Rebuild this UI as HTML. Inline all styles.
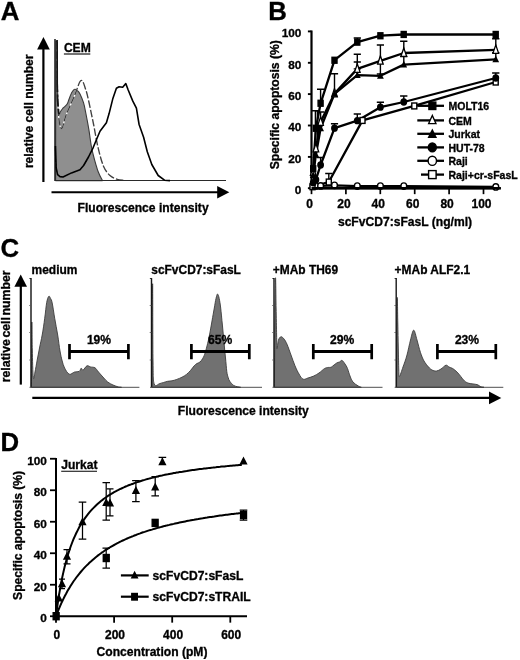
<!DOCTYPE html>
<html lang="en"><head><meta charset="utf-8"><title>Figure</title>
<style>html,body{margin:0;padding:0;background:#fff}svg{display:block}</style></head><body>
<svg width="520" height="660" viewBox="0 0 520 660" font-family="'Liberation Sans', Arial, Helvetica, sans-serif" font-weight="bold" fill="#000">
<rect width="520" height="660" fill="#fff"/>
<defs><filter id="soft" x="0" y="0" width="520" height="660" filterUnits="userSpaceOnUse"><feGaussianBlur stdDeviation="0.42"/></filter></defs>
<g filter="url(#soft)">
<text x="0.8" y="19.6" font-size="25.8" text-anchor="start" stroke="#000" stroke-width="0.32" >A</text>
<text x="268.2" y="19.8" font-size="25.8" text-anchor="start" stroke="#000" stroke-width="0.32" >B</text>
<text x="0.5" y="256.6" font-size="25.8" text-anchor="start" stroke="#000" stroke-width="0.32" >C</text>
<text x="0.5" y="451" font-size="25.8" text-anchor="start" stroke="#000" stroke-width="0.32" >D</text>
<g id="panelA">
<path d="M55.6,180.6L55.8,41.0L56.6,41.0L56.9,86.5L57.6,104.0L57.6,104.0C57.8,105.7 58.2,113.0 58.7,114.2C59.2,115.5 59.8,112.5 60.5,111.5C61.2,110.5 62.0,109.3 62.7,108.5C63.5,107.7 64.2,107.2 65.0,106.4C65.8,105.6 66.6,105.0 67.3,103.8C68.0,102.6 68.4,100.8 69.0,99.3C69.6,97.8 70.2,96.0 70.8,94.6C71.4,93.2 72.1,91.9 72.8,91.0C73.5,90.1 74.0,89.4 74.8,89.3C75.6,89.2 76.5,89.8 77.4,90.6C78.3,91.4 79.0,92.0 80.0,94.0C81.0,96.0 82.5,99.5 83.5,102.7C84.5,105.9 84.9,108.4 85.8,113.0C86.7,117.6 88.1,124.9 89.0,130.4C89.9,135.9 90.4,141.3 91.3,146.0C92.2,150.7 93.0,154.2 94.2,158.5C95.4,162.8 96.9,168.3 98.3,172.0C99.7,175.7 101.8,179.2 102.5,180.6Z" fill="#8f8f8f" stroke="#3a3a3a" stroke-width="1.1" stroke-linejoin="round"/>
<path d="M57.0,42.0C57.0,48.3 57.0,67.8 57.3,80.0C57.5,92.2 57.8,106.9 58.5,115.0C59.2,123.1 60.3,128.6 61.6,128.6C62.9,128.6 64.0,120.3 66.1,115.0C68.2,109.7 71.6,102.5 74.1,96.8C76.6,91.0 79.0,81.8 80.9,80.5C82.8,79.2 84.2,85.3 85.5,88.9C86.8,92.5 87.6,96.1 88.9,102.0C90.2,107.9 92.0,116.8 93.6,124.5C95.1,132.2 96.5,141.2 98.2,148.2C99.9,155.2 101.6,161.8 103.6,166.4C105.6,171.0 107.7,173.3 110.0,175.5C112.3,177.7 115.0,178.5 117.3,179.3C119.6,180.1 122.9,180.2 124.0,180.4" fill="none" stroke="#fff" stroke-width="1.3"/>
<path d="M57.0,42.0C57.0,48.3 57.0,67.8 57.3,80.0C57.5,92.2 57.8,106.9 58.5,115.0C59.2,123.1 60.3,128.6 61.6,128.6C62.9,128.6 64.0,120.3 66.1,115.0C68.2,109.7 71.6,102.5 74.1,96.8C76.6,91.0 79.0,81.8 80.9,80.5C82.8,79.2 84.2,85.3 85.5,88.9C86.8,92.5 87.6,96.1 88.9,102.0C90.2,107.9 92.0,116.8 93.6,124.5C95.1,132.2 96.5,141.2 98.2,148.2C99.9,155.2 101.6,161.8 103.6,166.4C105.6,171.0 107.7,173.3 110.0,175.5C112.3,177.7 115.0,178.5 117.3,179.3C119.6,180.1 122.9,180.2 124.0,180.4" fill="none" stroke="#404040" stroke-width="1.35" stroke-dasharray="7.5 2"/>
<path d="M57.1,40L57.2,84L57.7,101L58.8,114" fill="none" stroke="#141414" stroke-width="1.7" stroke-dasharray="52 2.5 12 2.5 30"/>
<path d="M55,180.4H226" stroke="#2a2a2a" stroke-width="1.05" fill="none"/>
<path d="M55,39V181" stroke="#262626" stroke-width="1.6" fill="none"/>
<polyline points="55.4,146.0 56.2,168.0 57.6,174.6 60.0,176.6 63.0,177.0 71.5,172.9 80.0,169.7 83.6,165.5 88.5,157.0 93.3,147.3 96.5,139.5 100.0,131.2 106.4,122.7 109.1,113.6 112.7,99.1 116.4,88.2 119.1,86.7 122.7,87.3 125.8,83.6 128.2,90.0 132.7,100.9 136.4,108.2 139.1,124.5 143.6,137.3 147.3,151.8 151.8,164.5 158.2,175.5 164.5,180.2 170.0,180.6" fill="none" stroke="#000" stroke-width="1.6" stroke-linejoin="round"/>
<path d="M43.4,182V48" stroke="#000" stroke-width="2.2" fill="none"/>
<polygon points="43.45,37 37.1,49.6 49.8,49.6"/>
<path d="M51.5,192.3H219" stroke="#000" stroke-width="2" fill="none"/>
<polygon points="229.3,192.3 217.2,186 217.2,198.6"/>
<text x="63.9" y="52.4" font-size="12.1" text-anchor="start" stroke="#000" stroke-width="0.32" >CEM</text>
<path d="M63.9,54H90.3" stroke="#000" stroke-width="1.1"/>
<text transform="translate(33.4 111.3) rotate(-90)" font-size="12.1" text-anchor="middle" stroke="#000" stroke-width="0.32" >relative cell number</text>
<text x="143.1" y="212.3" font-size="12.1" text-anchor="middle" stroke="#000" stroke-width="0.32" >Fluorescence intensity</text>
</g>
<g id="panelB">
<path d="M311.5,30.4V188.25H500.8" stroke="#000" stroke-width="2.2" fill="none"/>
<path d="M307.9,188.2H311.5" stroke="#000" stroke-width="1.9"/>
<text x="301.4" y="194.2" font-size="11.8" text-anchor="end" stroke="#000" stroke-width="0.32" >0</text>
<path d="M307.9,156.9H311.5" stroke="#000" stroke-width="1.9"/>
<text x="301.4" y="162.8" font-size="11.8" text-anchor="end" stroke="#000" stroke-width="0.32" >20</text>
<path d="M307.9,125.5H311.5" stroke="#000" stroke-width="1.9"/>
<text x="301.4" y="131.4" font-size="11.8" text-anchor="end" stroke="#000" stroke-width="0.32" >40</text>
<path d="M307.9,94.1H311.5" stroke="#000" stroke-width="1.9"/>
<text x="301.4" y="100.0" font-size="11.8" text-anchor="end" stroke="#000" stroke-width="0.32" >60</text>
<path d="M307.9,62.8H311.5" stroke="#000" stroke-width="1.9"/>
<text x="301.4" y="68.7" font-size="11.8" text-anchor="end" stroke="#000" stroke-width="0.32" >80</text>
<path d="M307.9,31.4H311.5" stroke="#000" stroke-width="1.9"/>
<text x="301.4" y="37.3" font-size="11.8" text-anchor="end" stroke="#000" stroke-width="0.32" >100</text>
<path d="M311.5,188.25V194.15" stroke="#000" stroke-width="1.7"/>
<text x="309.5" y="208" font-size="12" text-anchor="middle" stroke="#000" stroke-width="0.32" >0</text>
<path d="M345.9,188.25V194.15" stroke="#000" stroke-width="1.7"/>
<text x="343.9" y="208" font-size="12" text-anchor="middle" stroke="#000" stroke-width="0.32" >20</text>
<path d="M380.3,188.25V194.15" stroke="#000" stroke-width="1.7"/>
<text x="378.3" y="208" font-size="12" text-anchor="middle" stroke="#000" stroke-width="0.32" >40</text>
<path d="M414.7,188.25V194.15" stroke="#000" stroke-width="1.7"/>
<text x="412.7" y="208" font-size="12" text-anchor="middle" stroke="#000" stroke-width="0.32" >60</text>
<path d="M449.1,188.25V194.15" stroke="#000" stroke-width="1.7"/>
<text x="447.1" y="208" font-size="12" text-anchor="middle" stroke="#000" stroke-width="0.32" >80</text>
<path d="M483.5,188.25V194.15" stroke="#000" stroke-width="1.7"/>
<text x="481.5" y="208" font-size="12" text-anchor="middle" stroke="#000" stroke-width="0.32" >100</text>
<text transform="translate(279.2 104.8) rotate(-90)" font-size="12.1" text-anchor="middle" stroke="#000" stroke-width="0.32" >Specific apoptosis (%)</text>
<text x="405" y="225.5" font-size="12.1" text-anchor="middle" stroke="#000" stroke-width="0.32" >scFvCD7:sFasL (ng/ml)</text>
<polyline points="313.2,185.9 315.9,185.9 320.6,185.9 334.5,185.3 357.3,186.1 380.4,186.1 403.8,186.1 495.8,186.9" fill="none" stroke="#000" stroke-width="2.3" stroke-linejoin="round"/>
<polyline points="312.5,186.7 328.8,182.0 362.5,120.4 414.2,105.9 495.8,82.0" fill="none" stroke="#000" stroke-width="2.3" stroke-linejoin="round"/>
<polyline points="313.2,182.8 315.9,179.7 320.6,165.0 334.5,128.2 357.3,120.7 380.4,107.2 403.8,102.0 495.8,78.0" fill="none" stroke="#000" stroke-width="2.3" stroke-linejoin="round"/>
<polyline points="313.2,175.0 315.9,154.7 320.6,128.2 334.5,93.9 357.3,75.2 380.4,75.8 403.8,64.6 495.8,59.3" fill="none" stroke="#000" stroke-width="2.3" stroke-linejoin="round"/>
<polyline points="313.2,171.9 315.9,148.5 320.6,122.0 334.5,93.6 357.3,68.9 380.4,60.8 403.8,53.0 495.8,49.9" fill="none" stroke="#000" stroke-width="2.3" stroke-linejoin="round"/>
<polyline points="313.2,168.8 315.9,128.2 320.6,103.3 334.5,60.2 357.3,42.1 380.4,35.7 403.8,34.5 495.8,34.5" fill="none" stroke="#000" stroke-width="2.3" stroke-linejoin="round"/>
<path d="M328.8,173.5V182.0M325.2,173.5H332.4" stroke="#000" stroke-width="1.4" fill="none"/>
<path d="M334.5,123.7V128.2M330.9,123.7H338.1" stroke="#000" stroke-width="1.4" fill="none"/>
<path d="M357.3,114.0V120.7M353.7,114.0H360.9" stroke="#000" stroke-width="1.4" fill="none"/>
<path d="M380.4,102.2V107.2M376.8,102.2H384.0" stroke="#000" stroke-width="1.4" fill="none"/>
<path d="M403.8,96.0V102.0M400.1,96.0H407.4" stroke="#000" stroke-width="1.4" fill="none"/>
<path d="M495.8,73.0V78.0M492.1,73.0H499.4" stroke="#000" stroke-width="1.4" fill="none"/>
<path d="M320.6,157.5V165.0M317.0,157.5H324.2" stroke="#000" stroke-width="1.4" fill="none"/>
<path d="M334.5,73.8V93.9M330.9,73.8H338.1" stroke="#000" stroke-width="1.4" fill="none"/>
<path d="M357.3,62.0V75.2M353.7,62.0H360.9" stroke="#000" stroke-width="1.4" fill="none"/>
<path d="M357.3,54.2V68.9M353.7,54.2H360.9M353.7,68.9H360.9" stroke="#000" stroke-width="1.4" fill="none"/>
<path d="M380.4,45.0V74.0M376.8,45.0H384.0M376.8,74.0H384.0" stroke="#000" stroke-width="1.4" fill="none"/>
<path d="M403.8,41.3V53.0M400.1,41.3H407.4" stroke="#000" stroke-width="1.4" fill="none"/>
<path d="M495.8,38.8V49.9M492.1,38.8H499.4" stroke="#000" stroke-width="1.4" fill="none"/>
<path d="M495.8,52.6V59.3M492.1,52.6H499.4" stroke="#000" stroke-width="1.4" fill="none"/>
<path d="M403.8,56.5V64.6M400.1,56.5H407.4" stroke="#000" stroke-width="1.4" fill="none"/>
<path d="M320.6,112.0V122.0M317.0,112.0H324.2" stroke="#000" stroke-width="1.4" fill="none"/>
<path d="M315.4,110.8V148.5M311.2,110.8H319.6" stroke="#000" stroke-width="1.4" fill="none"/>
<path d="M317.4,110.8V140.0M315.4,110.8H319.4" stroke="#000" stroke-width="1.4" fill="none"/>
<path d="M357.3,38.0V42.1M353.7,38.0H360.9" stroke="#000" stroke-width="1.4" fill="none"/>
<path d="M320.6,89.2V103.3M317.0,89.2H324.2" stroke="#000" stroke-width="1.4" fill="none"/>
<ellipse cx="313.2" cy="185.9" rx="2.9" ry="3.19" fill="#fff" stroke="#000" stroke-width="1.4"/>
<ellipse cx="315.9" cy="185.9" rx="2.9" ry="3.19" fill="#fff" stroke="#000" stroke-width="1.4"/>
<ellipse cx="320.6" cy="185.9" rx="2.9" ry="3.19" fill="#fff" stroke="#000" stroke-width="1.4"/>
<ellipse cx="334.5" cy="185.3" rx="2.9" ry="3.19" fill="#fff" stroke="#000" stroke-width="1.4"/>
<ellipse cx="357.3" cy="186.1" rx="2.9" ry="3.19" fill="#fff" stroke="#000" stroke-width="1.4"/>
<ellipse cx="380.4" cy="186.1" rx="2.9" ry="3.19" fill="#fff" stroke="#000" stroke-width="1.4"/>
<ellipse cx="403.8" cy="186.1" rx="2.9" ry="3.19" fill="#fff" stroke="#000" stroke-width="1.4"/>
<ellipse cx="495.8" cy="186.9" rx="2.9" ry="3.19" fill="#fff" stroke="#000" stroke-width="1.4"/>
<rect x="310.0" y="183.8" width="5.0" height="5.9" fill="#fff" stroke="#000" stroke-width="1.4"/>
<rect x="326.3" y="179.1" width="5.0" height="5.9" fill="#fff" stroke="#000" stroke-width="1.4"/>
<rect x="360.0" y="117.5" width="5.0" height="5.9" fill="#fff" stroke="#000" stroke-width="1.4"/>
<rect x="411.8" y="103.0" width="5.0" height="5.9" fill="#fff" stroke="#000" stroke-width="1.4"/>
<rect x="493.2" y="79.1" width="5.0" height="5.9" fill="#fff" stroke="#000" stroke-width="1.4"/>
<ellipse cx="313.2" cy="182.8" rx="2.7" ry="2.97" fill="#000" stroke="#000" stroke-width="1.4"/>
<ellipse cx="315.9" cy="179.7" rx="2.7" ry="2.97" fill="#000" stroke="#000" stroke-width="1.4"/>
<ellipse cx="320.6" cy="165.0" rx="2.7" ry="2.97" fill="#000" stroke="#000" stroke-width="1.4"/>
<ellipse cx="334.5" cy="128.2" rx="2.7" ry="2.97" fill="#000" stroke="#000" stroke-width="1.4"/>
<ellipse cx="357.3" cy="120.7" rx="2.7" ry="2.97" fill="#000" stroke="#000" stroke-width="1.4"/>
<ellipse cx="380.4" cy="107.2" rx="2.7" ry="2.97" fill="#000" stroke="#000" stroke-width="1.4"/>
<ellipse cx="403.8" cy="102.0" rx="2.7" ry="2.97" fill="#000" stroke="#000" stroke-width="1.4"/>
<ellipse cx="495.8" cy="78.0" rx="2.7" ry="2.97" fill="#000" stroke="#000" stroke-width="1.4"/>
<polygon points="313.2,166.9 310.4,175.3 316.0,175.3" fill="#fff" stroke="#000" stroke-width="1.3" stroke-linejoin="miter"/>
<polygon points="315.9,143.5 313.1,151.9 318.7,151.9" fill="#fff" stroke="#000" stroke-width="1.3" stroke-linejoin="miter"/>
<polygon points="320.6,116.9 317.8,125.3 323.4,125.3" fill="#fff" stroke="#000" stroke-width="1.3" stroke-linejoin="miter"/>
<polygon points="334.5,88.5 331.7,96.9 337.3,96.9" fill="#fff" stroke="#000" stroke-width="1.3" stroke-linejoin="miter"/>
<polygon points="357.3,63.9 354.5,72.3 360.1,72.3" fill="#fff" stroke="#000" stroke-width="1.3" stroke-linejoin="miter"/>
<polygon points="380.4,55.8 377.6,64.2 383.2,64.2" fill="#fff" stroke="#000" stroke-width="1.3" stroke-linejoin="miter"/>
<polygon points="403.8,48.0 400.9,56.4 406.6,56.4" fill="#fff" stroke="#000" stroke-width="1.3" stroke-linejoin="miter"/>
<polygon points="495.8,44.9 492.9,53.3 498.6,53.3" fill="#fff" stroke="#000" stroke-width="1.3" stroke-linejoin="miter"/>
<polygon points="313.2,171.3 309.8,178.0 316.6,178.0" fill="#000"/>
<polygon points="315.9,151.0 312.5,157.7 319.3,157.7" fill="#000"/>
<polygon points="320.6,124.5 317.2,131.2 324.0,131.2" fill="#000"/>
<polygon points="334.5,90.2 331.1,96.8 337.9,96.8" fill="#000"/>
<polygon points="357.3,71.4 353.9,78.1 360.7,78.1" fill="#000"/>
<polygon points="380.4,72.1 377.0,78.7 383.8,78.7" fill="#000"/>
<polygon points="403.8,60.8 400.4,67.5 407.1,67.5" fill="#000"/>
<polygon points="495.8,55.5 492.4,62.2 499.1,62.2" fill="#000"/>
<rect x="310.7" y="165.8" width="5.0" height="5.9" fill="#000" stroke="#000" stroke-width="1.4"/>
<rect x="313.4" y="125.3" width="5.0" height="5.9" fill="#000" stroke="#000" stroke-width="1.4"/>
<rect x="318.1" y="100.3" width="5.0" height="5.9" fill="#000" stroke="#000" stroke-width="1.4"/>
<rect x="332.0" y="57.3" width="5.0" height="5.9" fill="#000" stroke="#000" stroke-width="1.4"/>
<rect x="354.8" y="39.2" width="5.0" height="5.9" fill="#000" stroke="#000" stroke-width="1.4"/>
<rect x="377.9" y="32.8" width="5.0" height="5.9" fill="#000" stroke="#000" stroke-width="1.4"/>
<rect x="401.2" y="31.5" width="5.0" height="5.9" fill="#000" stroke="#000" stroke-width="1.4"/>
<rect x="493.2" y="31.5" width="5.0" height="5.9" fill="#000" stroke="#000" stroke-width="1.4"/>
<path d="M311.5,188.25H500.8" stroke="#000" stroke-width="2.3" fill="none"/>
<path d="M417.3,105.8H444" stroke="#000" stroke-width="2.3"/>
<rect x="428.9" y="102.1" width="6.9" height="7.4" fill="#000" stroke="#000" stroke-width="1.4"/>
<text x="448.5" y="109.89999999999999" font-size="10.5" text-anchor="start" stroke="#000" stroke-width="0.32" >MOLT16</text>
<path d="M417.3,120.4H444" stroke="#000" stroke-width="2.3"/>
<polygon points="432.3,115.4 428.6,123.7 436.0,123.7" fill="#fff" stroke="#000" stroke-width="1.3" stroke-linejoin="miter"/>
<text x="448.5" y="124.5" font-size="10.5" text-anchor="start" stroke="#000" stroke-width="0.32" >CEM</text>
<path d="M417.3,133.8H444" stroke="#000" stroke-width="2.3"/>
<polygon points="432.3,128.5 427.5,137.9 437.1,137.9" fill="#000"/>
<text x="448.5" y="137.9" font-size="10.5" text-anchor="start" stroke="#000" stroke-width="0.32" >Jurkat</text>
<path d="M417.3,147.4H444" stroke="#000" stroke-width="2.3"/>
<ellipse cx="432.3" cy="147.4" rx="4.0" ry="4.40" fill="#000" stroke="#000" stroke-width="1.4"/>
<text x="448.5" y="151.5" font-size="10.5" text-anchor="start" stroke="#000" stroke-width="0.32" >HUT-78</text>
<path d="M417.3,160.8H444" stroke="#000" stroke-width="2.3"/>
<ellipse cx="432.3" cy="160.8" rx="4.2" ry="4.62" fill="#fff" stroke="#000" stroke-width="1.4"/>
<text x="448.5" y="164.9" font-size="10.5" text-anchor="start" stroke="#000" stroke-width="0.32" >Raji</text>
<path d="M421,174.6H444" stroke="#000" stroke-width="2.3"/>
<rect x="428.6" y="170.6" width="7.5" height="8.0" fill="#fff" stroke="#000" stroke-width="1.4"/>
<text x="448.5" y="178.7" font-size="10.5" text-anchor="start" stroke="#000" stroke-width="0.32" >Raji+cr-sFasL</text>
</g>
<g id="panelC">
<text transform="translate(10.2 326.3) rotate(-90)" font-size="12.3" text-anchor="middle" stroke="#000" stroke-width="0.32" word-spacing="-1.8">relative cell number</text>
<path d="M20.8,384.6V286" stroke="#000" stroke-width="2.2" fill="none"/>
<polygon points="20.7,274.6 14.4,286.7 27,286.7"/>
<path d="M32.3,397.9H491" stroke="#000" stroke-width="2.1" fill="none"/>
<polygon points="501.3,397.9 489,391.6 489,404.2"/>
<text x="243.3" y="415.3" font-size="12.1" text-anchor="middle" stroke="#000" stroke-width="0.32" >Fluorescence intensity</text>
<path d="M31.4,387.3C31.5,376.6 31.7,329.2 31.8,323.0C31.9,316.8 32.0,340.9 32.3,350.0C32.5,359.1 32.8,373.8 33.3,377.5C33.8,381.2 34.4,374.9 35.0,372.0C35.6,369.1 36.5,364.0 37.2,360.0C38.0,356.0 38.7,352.2 39.5,348.0C40.3,343.8 41.3,339.9 42.2,335.0C43.1,330.1 44.0,323.7 44.7,318.3C45.5,312.9 46.0,306.2 46.7,302.5C47.4,298.8 48.1,297.0 48.8,296.3C49.4,295.6 50.0,297.4 50.6,298.5C51.2,299.6 51.5,299.7 52.2,303.0C52.9,306.3 53.8,313.0 54.7,318.3C55.6,323.6 56.8,329.6 57.7,335.0C58.6,340.4 59.2,346.7 60.0,351.0C60.8,355.3 61.4,358.2 62.2,361.0C63.0,363.8 63.4,365.8 64.6,368.0C65.8,370.2 67.5,373.5 69.2,374.2C70.9,374.9 72.9,372.5 74.6,372.0C76.3,371.5 78.1,372.0 79.2,371.4C80.3,370.8 80.6,368.4 81.2,368.2C81.8,368.0 82.0,370.6 83.0,370.2C84.0,369.8 85.7,366.3 87.0,365.8C88.3,365.3 89.5,366.7 90.8,367.0C92.1,367.3 93.7,367.0 95.0,367.8C96.3,368.6 97.0,370.3 98.5,372.0C100.0,373.7 102.3,376.3 103.8,378.0C105.3,379.7 106.2,380.8 107.7,382.0C109.2,383.2 111.2,384.2 113.0,385.0C114.8,385.8 117.1,386.6 118.5,387.0C119.9,387.4 121.0,387.2 121.5,387.3Z" fill="#717171" stroke="#3c3c3c" stroke-width="0.9" stroke-linejoin="round"/>
<path d="M29.4,278.5H31" stroke="#222" stroke-width="0.9" fill="none"/>
<path d="M31,278.1V387.3" stroke="#161616" stroke-width="1.4" fill="none"/>
<path d="M29.5,387.3H139.4" stroke="#3a3a3a" stroke-width="0.9" fill="none"/>
<text x="31.6" y="273.6" font-size="11.95" text-anchor="start" stroke="#000" stroke-width="0.32" >medium</text>
<text x="99" y="344" font-size="12.1" text-anchor="middle" stroke="#000" stroke-width="0.32" >19%</text>
<path d="M69.5,351.6H128.4" stroke="#000" stroke-width="3" fill="none"/>
<path d="M69.5,344V359.3M128.4,344V359.3" stroke="#000" stroke-width="2.7" fill="none"/>
<path d="M29.2,305.5H31" stroke="#555" stroke-width="0.8"/>
<path d="M29.2,332.5H31" stroke="#555" stroke-width="0.8"/>
<path d="M29.2,360H31" stroke="#555" stroke-width="0.8"/>
<path d="M151.9,387.3C152.0,370.1 152.4,288.6 152.6,284.0C152.8,279.4 152.7,343.3 153.0,360.0C153.3,376.7 153.0,380.1 154.2,384.0C155.4,387.9 157.8,383.9 160.0,383.5C162.2,383.1 165.2,381.8 167.2,381.4C169.2,380.9 170.4,381.1 172.0,380.8C173.6,380.5 175.1,380.0 176.8,379.4C178.5,378.8 180.4,378.0 182.0,377.2C183.6,376.4 185.1,375.5 186.5,374.4C187.9,373.3 189.2,371.9 190.5,370.5C191.8,369.1 193.1,367.0 194.2,365.8C195.3,364.6 196.0,364.1 197.0,363.5C198.0,362.9 199.1,362.8 200.0,362.0C200.9,361.2 201.7,360.1 202.5,358.8C203.3,357.5 203.9,356.3 204.7,354.2C205.4,352.1 206.2,349.2 207.0,346.0C207.8,342.8 208.7,339.2 209.5,335.0C210.3,330.8 211.2,325.5 212.0,321.0C212.8,316.5 213.6,311.8 214.3,308.0C215.0,304.2 215.4,300.8 216.0,298.5C216.6,296.2 217.1,294.0 217.6,294.0C218.1,294.0 218.7,296.2 219.2,298.5C219.7,300.8 220.2,303.6 220.7,308.0C221.2,312.4 221.8,319.2 222.4,325.0C223.0,330.8 223.5,337.2 224.0,342.7C224.5,348.2 225.0,353.2 225.5,358.0C226.0,362.8 226.4,368.2 226.8,371.5C227.2,374.8 227.7,375.9 228.2,377.5C228.7,379.1 228.8,379.9 229.7,381.2C230.6,382.5 232.3,384.5 233.6,385.4C234.9,386.3 236.5,386.5 237.7,386.8C238.9,387.1 240.2,387.2 240.7,387.3Z" fill="#717171" stroke="#3c3c3c" stroke-width="0.9" stroke-linejoin="round"/>
<path d="M149.9,278.5H151.5" stroke="#222" stroke-width="0.9" fill="none"/>
<path d="M151.5,278.1V387.3" stroke="#161616" stroke-width="1.4" fill="none"/>
<path d="M150.0,387.3H262" stroke="#3a3a3a" stroke-width="0.9" fill="none"/>
<text x="151.3" y="273.6" font-size="11.95" text-anchor="start" stroke="#000" stroke-width="0.32" >scFvCD7:sFasL</text>
<text x="220.2" y="344" font-size="12.1" text-anchor="middle" stroke="#000" stroke-width="0.32" >65%</text>
<path d="M191.4,351.6H249.3" stroke="#000" stroke-width="3" fill="none"/>
<path d="M191.4,344V359.3M249.3,344V359.3" stroke="#000" stroke-width="2.7" fill="none"/>
<path d="M149.7,305.5H151.5" stroke="#555" stroke-width="0.8"/>
<path d="M149.7,332.5H151.5" stroke="#555" stroke-width="0.8"/>
<path d="M149.7,360H151.5" stroke="#555" stroke-width="0.8"/>
<path d="M274.4,387.3C274.6,369.6 275.1,294.2 275.4,281.0C275.7,267.8 275.9,299.0 276.1,308.0C276.3,317.0 276.5,328.2 276.6,335.0C276.8,341.8 276.7,347.8 277.0,348.6C277.3,349.4 277.8,342.0 278.5,340.0C279.2,338.0 280.1,336.9 281.0,336.7C281.9,336.5 283.0,337.8 284.0,339.0C285.0,340.2 285.8,341.5 287.0,344.2C288.2,346.9 289.7,351.4 291.0,355.0C292.3,358.6 293.7,362.6 295.0,365.8C296.3,369.0 297.7,371.8 299.0,374.0C300.3,376.2 301.5,378.5 303.0,379.2C304.5,379.9 306.2,378.5 308.0,378.0C309.8,377.5 312.0,376.8 313.8,376.0C315.6,375.2 317.2,374.2 319.0,373.0C320.8,371.8 323.1,369.4 324.6,368.5C326.1,367.6 326.9,367.8 328.0,367.5C329.1,367.2 329.9,367.8 331.4,367.0C332.8,366.2 335.3,363.8 336.7,363.0C338.1,362.2 338.6,362.4 339.5,362.0C340.4,361.6 341.1,360.1 342.0,360.4C342.9,360.7 344.1,362.6 345.0,364.0C345.9,365.4 346.7,366.5 347.5,368.5C348.3,370.5 349.1,373.8 350.0,376.0C350.9,378.2 351.5,380.3 352.9,382.0C354.3,383.7 356.9,385.1 358.3,386.0C359.7,386.9 360.8,387.1 361.3,387.3Z" fill="#717171" stroke="#3c3c3c" stroke-width="0.9" stroke-linejoin="round"/>
<path d="M272.4,278.5H274" stroke="#222" stroke-width="0.9" fill="none"/>
<path d="M274,278.1V387.3" stroke="#161616" stroke-width="1.4" fill="none"/>
<path d="M272.5,387.3H382.5" stroke="#3a3a3a" stroke-width="0.9" fill="none"/>
<text x="272.8" y="273.6" font-size="11.95" text-anchor="start" stroke="#000" stroke-width="0.32" >+MAb TH69</text>
<text x="342.1" y="344" font-size="12.1" text-anchor="middle" stroke="#000" stroke-width="0.32" >29%</text>
<path d="M313.3,351.6H371.7" stroke="#000" stroke-width="3" fill="none"/>
<path d="M313.3,344V359.3M371.7,344V359.3" stroke="#000" stroke-width="2.7" fill="none"/>
<path d="M272.2,305.5H274" stroke="#555" stroke-width="0.8"/>
<path d="M272.2,332.5H274" stroke="#555" stroke-width="0.8"/>
<path d="M272.2,360H274" stroke="#555" stroke-width="0.8"/>
<path d="M396.6,387.3C396.7,372.8 397.0,310.7 397.2,300.0C397.4,289.3 397.6,315.0 397.8,323.0C398.0,331.0 398.1,340.2 398.3,348.0C398.5,355.8 398.6,365.2 398.8,370.0C399.0,374.8 398.7,377.0 399.4,376.5C400.1,376.0 401.7,370.6 403.0,367.0C404.3,363.4 405.8,359.5 407.0,355.0C408.2,350.5 409.4,344.1 410.5,340.0C411.6,335.9 412.6,330.2 413.7,330.2C414.8,330.2 415.9,336.3 417.0,340.0C418.1,343.7 419.2,348.8 420.4,352.3C421.6,355.8 422.6,358.6 424.0,361.0C425.4,363.4 427.2,365.5 428.5,367.0C429.8,368.5 430.7,369.3 432.0,370.0C433.3,370.7 435.0,371.2 436.5,371.0C438.0,370.8 439.4,370.0 441.0,369.0C442.6,368.0 444.7,365.5 446.0,365.2C447.3,364.9 447.9,366.4 449.0,367.0C450.1,367.6 451.4,367.7 452.7,368.5C454.0,369.3 455.6,370.7 457.0,372.0C458.4,373.3 459.6,375.0 460.8,376.5C462.1,378.0 463.1,379.9 464.5,381.0C465.9,382.1 466.8,382.7 468.9,383.3C471.0,383.9 475.0,384.0 477.0,384.6C479.0,385.2 479.8,386.4 481.0,386.8C482.2,387.2 483.5,387.2 484.0,387.3Z" fill="#717171" stroke="#3c3c3c" stroke-width="0.9" stroke-linejoin="round"/>
<path d="M394.59999999999997,278.5H396.2" stroke="#222" stroke-width="0.9" fill="none"/>
<path d="M396.2,278.1V387.3" stroke="#161616" stroke-width="1.4" fill="none"/>
<path d="M394.7,387.3H503.3" stroke="#3a3a3a" stroke-width="0.9" fill="none"/>
<text x="394.59999999999997" y="273.6" font-size="11.95" text-anchor="start" stroke="#000" stroke-width="0.32" >+MAb ALF2.1</text>
<text x="467" y="344" font-size="12.1" text-anchor="middle" stroke="#000" stroke-width="0.32" >23%</text>
<path d="M437.4,351.6H495.8" stroke="#000" stroke-width="3" fill="none"/>
<path d="M437.4,344V359.3M495.8,344V359.3" stroke="#000" stroke-width="2.7" fill="none"/>
<path d="M394.4,305.5H396.2" stroke="#555" stroke-width="0.8"/>
<path d="M394.4,332.5H396.2" stroke="#555" stroke-width="0.8"/>
<path d="M394.4,360H396.2" stroke="#555" stroke-width="0.8"/>
</g>
<g id="panelD">
<path d="M56,458V616.25H247" stroke="#000" stroke-width="2" fill="none"/>
<path d="M50,616.25H56" stroke="#000" stroke-width="1.8"/>
<text x="46.9" y="622.2" font-size="11.8" text-anchor="end" stroke="#000" stroke-width="0.32" >0</text>
<path d="M50,584.75H56" stroke="#000" stroke-width="1.8"/>
<text x="46.9" y="590.8" font-size="11.8" text-anchor="end" stroke="#000" stroke-width="0.32" >20</text>
<path d="M50,553.25H56" stroke="#000" stroke-width="1.8"/>
<text x="46.9" y="559.2" font-size="11.8" text-anchor="end" stroke="#000" stroke-width="0.32" >40</text>
<path d="M50,521.75H56" stroke="#000" stroke-width="1.8"/>
<text x="46.9" y="527.8" font-size="11.8" text-anchor="end" stroke="#000" stroke-width="0.32" >60</text>
<path d="M50,490.25H56" stroke="#000" stroke-width="1.8"/>
<text x="46.9" y="496.2" font-size="11.8" text-anchor="end" stroke="#000" stroke-width="0.32" >80</text>
<path d="M50,458.75H56" stroke="#000" stroke-width="1.8"/>
<text x="46.9" y="464.8" font-size="11.8" text-anchor="end" stroke="#000" stroke-width="0.32" >100</text>
<path d="M56.0,616.25V622.65" stroke="#000" stroke-width="1.8"/>
<text x="56.9" y="638.9" font-size="12" text-anchor="middle" stroke="#000" stroke-width="0.32" >0</text>
<path d="M114.1,616.25V622.65" stroke="#000" stroke-width="1.8"/>
<text x="115.0" y="638.9" font-size="12" text-anchor="middle" stroke="#000" stroke-width="0.32" >200</text>
<path d="M172.2,616.25V622.65" stroke="#000" stroke-width="1.8"/>
<text x="173.1" y="638.9" font-size="12" text-anchor="middle" stroke="#000" stroke-width="0.32" >400</text>
<path d="M230.3,616.25V622.65" stroke="#000" stroke-width="1.8"/>
<text x="231.2" y="638.9" font-size="12" text-anchor="middle" stroke="#000" stroke-width="0.32" >600</text>
<text transform="translate(22.0 535.4) rotate(-90)" font-size="12.1" text-anchor="middle" stroke="#000" stroke-width="0.32" >Specific apoptosis (%)</text>
<text x="152" y="655.5" font-size="12.1" text-anchor="middle" stroke="#000" stroke-width="0.32" >Concentration (pM)</text>
<text x="61.2" y="468.8" font-size="12.1" text-anchor="start" stroke="#000" stroke-width="0.32" >Jurkat</text>
<path d="M61.2,471.2H97" stroke="#000" stroke-width="1.1"/>
<polyline points="56.0,616.2 57.5,605.2 58.9,595.6 60.4,587.1 61.8,579.4 63.3,572.6 64.7,566.5 66.2,560.9 67.6,555.8 69.1,551.2 70.5,547.0 72.0,543.0 73.4,539.4 74.9,536.1 76.3,533.0 77.8,530.1 79.2,527.3 80.7,524.8 82.1,522.4 83.6,520.2 85.0,518.1 86.5,516.1 88.0,514.2 89.4,512.4 90.9,510.7 92.3,509.1 93.8,507.6 95.2,506.2 96.7,504.8 98.1,503.5 99.6,502.2 101.0,501.0 102.5,499.9 103.9,498.8 105.4,497.7 106.8,496.7 108.3,495.7 109.7,494.8 111.2,493.9 112.6,493.1 114.1,492.2 115.6,491.4 117.0,490.6 118.5,489.9 119.9,489.2 121.4,488.5 122.8,487.8 124.3,487.2 125.7,486.5 127.2,485.9 128.6,485.3 130.1,484.8 131.5,484.2 133.0,483.7 134.4,483.1 135.9,482.6 137.3,482.1 138.8,481.7 140.2,481.2 141.7,480.7 143.1,480.3 144.6,479.9 146.1,479.4 147.5,479.0 149.0,478.6 150.4,478.2 151.9,477.9 153.3,477.5 154.8,477.1 156.2,476.8 157.7,476.4 159.1,476.1 160.6,475.8 162.0,475.5 163.5,475.1 164.9,474.8 166.4,474.5 167.8,474.3 169.3,474.0 170.7,473.7 172.2,473.4 173.7,473.1 175.1,472.9 176.6,472.6 178.0,472.4 179.5,472.1 180.9,471.9 182.4,471.7 183.8,471.4 185.3,471.2 186.7,471.0 188.2,470.7 189.6,470.5 191.1,470.3 192.5,470.1 194.0,469.9 195.4,469.7 196.9,469.5 198.3,469.3 199.8,469.1 201.2,468.9 202.7,468.8 204.2,468.6 205.6,468.4 207.1,468.2 208.5,468.1 210.0,467.9 211.4,467.7 212.9,467.6 214.3,467.4 215.8,467.3 217.2,467.1 218.7,466.9 220.1,466.8 221.6,466.6 223.0,466.5 224.5,466.4 225.9,466.2 227.4,466.1 228.8,465.9 230.3,465.8 231.8,465.7 233.2,465.5 234.7,465.4 236.1,465.3 237.6,465.2 239.0,465.0 240.5,464.9 241.9,464.8" fill="none" stroke="#000" stroke-width="2"/>
<polyline points="56.0,616.2 57.5,612.4 58.9,608.8 60.4,605.4 61.8,602.2 63.3,599.1 64.7,596.2 66.2,593.5 67.6,590.8 69.1,588.4 70.5,586.0 72.0,583.7 73.4,581.5 74.9,579.5 76.3,577.5 77.8,575.6 79.2,573.8 80.7,572.0 82.1,570.3 83.6,568.7 85.0,567.1 86.5,565.6 88.0,564.2 89.4,562.8 90.9,561.5 92.3,560.2 93.8,558.9 95.2,557.7 96.7,556.5 98.1,555.4 99.6,554.3 101.0,553.2 102.5,552.2 103.9,551.2 105.4,550.2 106.8,549.3 108.3,548.4 109.7,547.5 111.2,546.6 112.6,545.8 114.1,545.0 115.6,544.2 117.0,543.4 118.5,542.7 119.9,541.9 121.4,541.2 122.8,540.5 124.3,539.8 125.7,539.2 127.2,538.5 128.6,537.9 130.1,537.3 131.5,536.7 133.0,536.1 134.4,535.5 135.9,535.0 137.3,534.4 138.8,533.9 140.2,533.4 141.7,532.8 143.1,532.3 144.6,531.9 146.1,531.4 147.5,530.9 149.0,530.4 150.4,530.0 151.9,529.6 153.3,529.1 154.8,528.7 156.2,528.3 157.7,527.9 159.1,527.5 160.6,527.1 162.0,526.7 163.5,526.3 164.9,525.9 166.4,525.6 167.8,525.2 169.3,524.9 170.7,524.5 172.2,524.2 173.7,523.9 175.1,523.5 176.6,523.2 178.0,522.9 179.5,522.6 180.9,522.3 182.4,522.0 183.8,521.7 185.3,521.4 186.7,521.1 188.2,520.8 189.6,520.6 191.1,520.3 192.5,520.0 194.0,519.8 195.4,519.5 196.9,519.2 198.3,519.0 199.8,518.7 201.2,518.5 202.7,518.3 204.2,518.0 205.6,517.8 207.1,517.6 208.5,517.3 210.0,517.1 211.4,516.9 212.9,516.7 214.3,516.5 215.8,516.2 217.2,516.0 218.7,515.8 220.1,515.6 221.6,515.4 223.0,515.2 224.5,515.0 225.9,514.8 227.4,514.7 228.8,514.5 230.3,514.3 231.8,514.1 233.2,513.9 234.7,513.7 236.1,513.6 237.6,513.4 239.0,513.2 240.5,513.1 241.9,512.9" fill="none" stroke="#000" stroke-width="2"/>
<path d="M62.0,579.0V588.5M59.0,579.0H65.0M59.0,588.5H65.0" stroke="#000" stroke-width="1.25" fill="none"/>
<path d="M67.0,549.5V563.8M63.5,549.5H70.5M63.5,563.8H70.5" stroke="#000" stroke-width="1.25" fill="none"/>
<path d="M82.5,502.0V539.2M78.7,502.0H86.3M78.7,539.2H86.3" stroke="#000" stroke-width="1.25" fill="none"/>
<path d="M106.2,482.5V520.0M102.5,482.5H110.0M102.5,520.0H110.0" stroke="#000" stroke-width="1.25" fill="none"/>
<path d="M110.0,488.8V515.8M106.5,488.8H113.5M106.5,515.8H113.5" stroke="#000" stroke-width="1.25" fill="none"/>
<path d="M135.9,480.5V501.5M132.1,480.5H139.7M132.1,501.5H139.7" stroke="#000" stroke-width="1.25" fill="none"/>
<path d="M155.2,476.7V495.8M151.4,476.7H159.0M151.4,495.8H159.0" stroke="#000" stroke-width="1.25" fill="none"/>
<path d="M162.4,457.4V461.7M158.6,457.4H166.2" stroke="#000" stroke-width="1.25" fill="none"/>
<path d="M106.2,548.0V568.0M102.5,548.0H110.0M102.5,568.0H110.0" stroke="#000" stroke-width="1.25" fill="none"/>
<path d="M243.5,510.0V520.0M239.7,510.0H247.3M239.7,520.0H247.3" stroke="#000" stroke-width="1.25" fill="none"/>
<polygon points="58.8,593.5 54.6,601.5 62.9,601.5" fill="#000"/>
<polygon points="62.0,579.2 57.9,587.3 66.1,587.3" fill="#000"/>
<polygon points="67.0,551.7 62.9,559.8 71.1,559.8" fill="#000"/>
<polygon points="82.5,517.2 78.4,525.3 86.6,525.3" fill="#000"/>
<polygon points="106.2,498.0 102.2,506.0 110.3,506.0" fill="#000"/>
<polygon points="110.0,498.5 105.9,506.5 114.1,506.5" fill="#000"/>
<polygon points="135.9,486.1 131.8,494.1 140.0,494.1" fill="#000"/>
<polygon points="155.2,482.5 151.1,490.5 159.3,490.5" fill="#000"/>
<polygon points="162.4,457.2 158.3,465.2 166.5,465.2" fill="#000"/>
<polygon points="243.5,456.5 239.4,464.5 247.6,464.5" fill="#000"/>
<rect x="53.2" y="612.7" width="5.9" height="7.0" fill="#000" stroke="#000" stroke-width="1.4"/>
<rect x="103.3" y="554.5" width="5.9" height="7.0" fill="#000" stroke="#000" stroke-width="1.4"/>
<rect x="152.2" y="519.4" width="5.9" height="7.0" fill="#000" stroke="#000" stroke-width="1.4"/>
<rect x="240.6" y="511.5" width="5.9" height="7.0" fill="#000" stroke="#000" stroke-width="1.4"/>
<path d="M120.9,575.4H148.7" stroke="#000" stroke-width="2.2"/>
<polygon points="134.6,570.8 130.7,578.5 138.5,578.5" fill="#000"/>
<text x="152.6" y="579.7" font-size="12.1" text-anchor="start" stroke="#000" stroke-width="0.32" >scFvCD7:sFasL</text>
<path d="M120.9,596.7H148.7" stroke="#000" stroke-width="2.2"/>
<rect x="131.8" y="593.5" width="5.5" height="6.5" fill="#000" stroke="#000" stroke-width="1.4"/>
<text x="152.6" y="600.8" font-size="12.1" text-anchor="start" stroke="#000" stroke-width="0.32" >scFvCD7:sTRAIL</text>
</g>
</g>
</svg></body></html>
